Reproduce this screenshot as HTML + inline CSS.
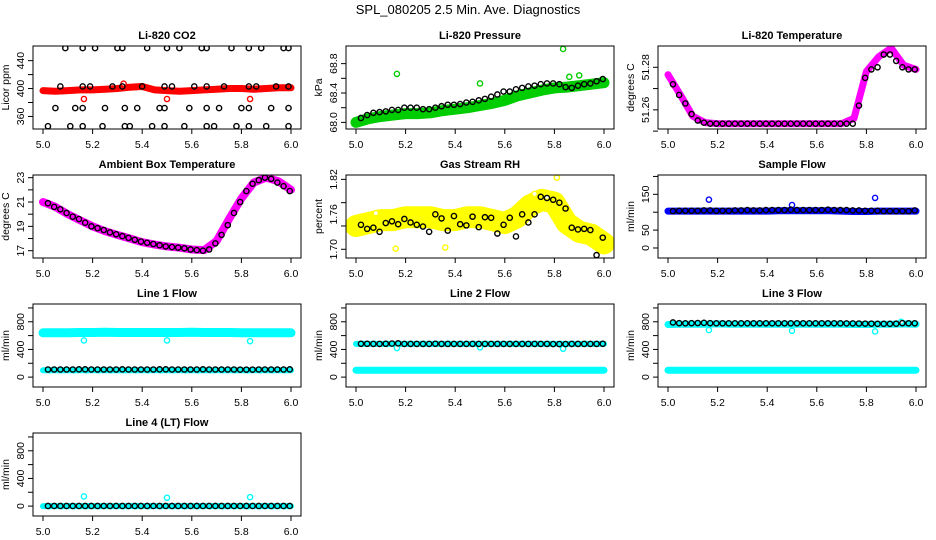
<!DOCTYPE html>
<html><head><meta charset="utf-8">
<style>
html,body{margin:0;padding:0;background:#fff;}
svg{display:block;font-family:"Liberation Sans",Arial,sans-serif;}
</style></head>
<body>
<svg id="chart" width="936" height="540" viewBox="0 0 936 540" xmlns="http://www.w3.org/2000/svg">
<rect x="0" y="0" width="936" height="540" fill="#fff"/>
<text x="468" y="14" text-anchor="middle" font-size="13">SPL_080205  2.5 Min. Ave. Diagnostics</text>
</svg>
<script>
// shared x positions
const blackX = [5.02,5.045,5.07,5.095,5.12,5.145,5.17,5.195,5.22,5.245,5.27,5.295,5.32,5.345,5.37,5.395,5.42,5.445,5.47,5.495,5.52,5.545,5.57,5.595,5.62,5.645,5.67,5.695,5.72,5.745,5.77,5.795,5.82,5.845,5.87,5.895,5.92,5.945,5.97,5.995];
const bandX = [5.0,5.05,5.1,5.15,5.2,5.25,5.3,5.35,5.4,5.45,5.5,5.55,5.6,5.65,5.7,5.75,5.8,5.85,5.9,5.95,6.0];
const xTicks = [5.0,5.2,5.4,5.6,5.8,6.0];
const xTickLabels = ["5.0","5.2","5.4","5.6","5.8","6.0"];

// CO2
const co2Band = [397,396,397,398,398,399,400,402,403,398,397,396,397,398,399,400,400,399,400,401,401];
const co2BlackX = [5.09,5.16,5.21,5.30,5.32,5.42,5.50,5.55,5.64,5.66,5.76,5.83,5.88,5.97,5.99,
 5.07,5.16,5.19,5.28,5.32,5.40,5.49,5.52,5.61,5.66,5.73,5.83,5.86,5.94,5.99,
 5.05,5.13,5.16,5.25,5.33,5.38,5.47,5.49,5.59,5.66,5.71,5.80,5.83,5.92,5.99,
 5.02,5.11,5.16,5.24,5.33,5.35,5.44,5.49,5.57,5.66,5.69,5.78,5.83,5.90,5.99];
const co2BlackY = [458,458,458,458,458,458,458,458,458,458,458,458,458,458,458,
 403,403,403,403,403,403,403,403,403,403,403,403,403,403,403,
 372,372,372,372,372,372,372,372,372,372,372,372,372,372,372,
 346,346,346,346,346,346,346,346,346,346,346,346,346,346,346];
const co2OutX = [5.165,5.5,5.835,5.325];
const co2OutY = [385,385,385,407];

// Pressure
const presBand = [68.0,68.05,68.08,68.1,68.12,68.12,68.13,68.16,68.18,68.2,68.23,68.26,68.3,68.36,68.4,68.44,68.47,68.48,68.5,68.52,68.54];
const presBlack = [68.06,68.1,68.13,68.14,68.15,68.17,68.17,68.2,68.2,68.2,68.18,68.18,68.2,68.22,68.24,68.24,68.25,68.27,68.28,68.3,68.32,68.35,68.38,68.42,68.42,68.45,68.47,68.49,68.5,68.52,68.53,68.53,68.52,68.48,68.47,68.5,68.52,68.53,68.56,68.59];
const presOutX = [5.165,5.5,5.835,5.86,5.9];
const presOutY = [68.66,68.53,69.0,68.62,68.64];

// Li-820 temperature
const ltBand = [51.2765,51.267,51.257,51.254,51.2535,51.2535,51.2535,51.2535,51.2535,51.2535,51.2535,51.2535,51.2535,51.2535,51.2535,51.256,51.278,51.285,51.289,51.281,51.279];
const ltBlack = [51.272,51.267,51.263,51.258,51.255,51.254,51.2535,51.2535,51.2535,51.2535,51.2535,51.2535,51.2535,51.2535,51.2535,51.2535,51.2535,51.2535,51.2535,51.2535,51.2535,51.2535,51.2535,51.2535,51.2535,51.2535,51.2535,51.2535,51.2535,51.2535,51.262,51.275,51.279,51.28,51.286,51.286,51.283,51.28,51.279,51.279];

// Ambient box temperature
const abBand = [21.0,20.6,20.0,19.5,19.0,18.6,18.3,18.0,17.7,17.5,17.35,17.25,17.1,17.05,17.8,19.6,21.3,22.6,23.0,22.7,22.0];
const abBlack = [20.9,20.6,20.4,20.1,19.8,19.6,19.3,19.0,18.85,18.7,18.5,18.35,18.2,18.05,17.9,17.75,17.65,17.55,17.45,17.35,17.3,17.25,17.2,17.1,17.05,17.0,17.1,17.6,18.3,19.1,20.1,21.0,21.9,22.5,22.8,23.0,22.9,22.6,22.3,21.9];

// Gas stream RH
const rhBand = [1.74,1.745,1.75,1.75,1.755,1.755,1.755,1.75,1.75,1.755,1.755,1.75,1.745,1.755,1.775,1.785,1.78,1.745,1.73,1.725,1.71];
const rhBlack = [1.742,1.735,1.737,1.73,1.745,1.748,1.743,1.752,1.746,1.742,
 1.739,1.73,1.76,1.753,1.732,1.757,1.743,1.741,1.756,1.738,
 1.755,1.754,1.727,1.742,1.754,1.722,1.76,1.746,1.76,1.79,
 1.788,1.785,1.78,1.77,1.737,1.734,1.735,1.733,1.69,1.72];
const rhOutX = [5.36,5.81,5.16,5.08,5.72,5.77];
const rhOutY = [1.703,1.823,1.701,1.762,1.795,1.79];

// Sample flow
const sfBand = [103,103,103,103,103,103,103,103,103,104,104,104,104,104,103,102,102,103,103,103,103];
const sfBlack = [103,104,104,104,104,105,105,104,104,104,105,105,106,105,105,106,106,106,106,107,106,106,106,106,106,107,106,106,106,105,105,104,104,104,103,103,103,103,103,105];
const sfOutX = [5.165,5.5,5.835];
const sfOutY = [135,120,140];

// Line flows
const l1Upper = [640,640,642,645,645,648,645,645,645,645,645,645,648,645,645,645,640,640,640,640,640];
const l1Lower = [100,100,100,100,100,100,100,100,100,100,100,100,100,100,100,100,100,100,100,100,100];
const l1Black = [110,110,110,110,110,112,112,110,110,110,110,110,112,110,110,110,110,110,112,112,110,110,110,110,110,112,110,110,110,110,110,108,108,108,110,110,110,110,110,112];
const l1OutX = [5.165,5.5,5.835];
const l1OutY = [530,530,520];

const l2Upper = [480,480,480,480,480,480,480,480,480,480,480,480,480,480,480,480,480,480,480,480,480];
const l2Lower = [100,100,100,100,100,100,100,100,100,100,100,100,100,100,100,100,100,100,100,100,100];
const l2Black = [482,482,480,480,482,485,488,480,480,480,480,480,482,480,480,480,480,480,480,480,480,480,480,480,480,480,480,480,480,480,480,478,478,478,480,480,480,480,480,482];
const l2OutX = [5.165,5.5,5.835];
const l2OutY = [420,430,410];

const l3Upper = [760,765,765,765,770,765,765,765,765,765,765,765,765,765,765,760,760,765,765,770,765];
const l3Lower = [100,100,100,100,100,100,100,100,100,100,100,100,100,100,100,100,100,100,100,100,100];
const l3Black = [790,780,778,780,782,785,780,778,778,778,778,778,778,778,778,778,778,778,778,778,778,778,778,778,778,778,778,778,776,776,775,773,773,770,770,770,772,780,778,778];
const l3OutX = [5.165,5.5,5.835,5.94];
const l3OutY = [680,670,660,800];

const l4Band = [0,0,0,0,0,0,0,0,0,0,0,0,0,0,0,0,0,0,0,0,0];
const l4Black = [2,2,2,2,2,2,2,2,2,2,2,2,2,2,2,2,2,2,2,2,2,2,2,2,2,2,2,2,2,2,2,2,2,2,2,2,2,2,2,2];
const l4OutX = [5.165,5.5,5.835];
const l4OutY = [140,120,130];

const NS = "http://www.w3.org/2000/svg";
const svg = document.getElementById('chart');
function mk(tag, attrs, parent){
  const e = document.createElementNS(NS, tag);
  for (const k in attrs) e.setAttribute(k, attrs[k]);
  (parent||svg).appendChild(e);
  return e;
}
const colLeft = [33,346,658];
const rowTop = [46,175,304,433];
const BW = 268, BH = 83;

function panel(cfg){
  const L = colLeft[cfg.col], T = rowTop[cfg.row];
  const g = mk('g', {});
  
  
  const sx = v => L + 10 + (v - 5.0) * (BW - 20);
  const sy = v => T + BH - (v - cfg.ylim[0]) / (cfg.ylim[1] - cfg.ylim[0]) * BH;
  const t = mk('text', {x: L + BW/2, y: T - 7, 'text-anchor':'middle', 'font-size':'11', 'font-weight':'bold'}, g);
  t.textContent = cfg.title;
  
  
  const cid = 'c' + cfg.row + cfg.col;
  const cp = mk('clipPath', {id: cid}, g);
  mk('rect', {x: L, y: T, width: BW, height: BH}, cp);
  const pg = mk('g', {'clip-path': 'url(#' + cid + ')'}, g);
  (cfg.bands||[]).forEach(b => {
    const pts = bandX.map((x,i) => sx(x).toFixed(1) + ',' + sy(b.v[i]).toFixed(1)).join(' ');
    const pl = mk('polyline', {points: pts, fill:'none', stroke: b.c, 'stroke-width': b.w, 'stroke-linejoin':'round', 'stroke-linecap':'round'}, pg);
    
    
    bandX.forEach((x,i) => {
      if (i < bandX.length - 1) {
        const xm = (x + bandX[i+1]) / 2, vm = (b.v[i] + b.v[i+1]) / 2;
        const c = mk('circle', {cx: sx(xm), cy: sy(vm), r: 2.6, fill:'none', stroke: b.c, 'stroke-width': 1.3}, pg);
        
        
      }
    });
  });
  (cfg.outs||[]).forEach(o => {
    o.x.forEach((x,i) => {
      const c = mk('circle', {cx: sx(x), cy: sy(o.y[i]), r: 2.6, fill:'#fff', stroke: o.c, 'stroke-width': 1.4}, pg);
      
      
    });
  });
  if (cfg.black) {
    cfg.black.x.forEach((x,i) => {
      const c = mk('circle', {cx: sx(x), cy: sy(cfg.black.y[i]), r: 2.6, fill:'none', stroke:'#000', 'stroke-width': 1.4}, pg);
      
      
    });
  }
  mk('rect', {x: L, y: T, width: BW, height: BH, fill:'none', stroke:'#000', 'stroke-width': 1}, g);
  xTicks.forEach((v,i) => {
    mk('line', {x1: sx(v), x2: sx(v), y1: T+BH, y2: T+BH+5, stroke:'#000'}, g);
    const tl = mk('text', {x: sx(v), y: T+BH+19, 'text-anchor':'middle', 'font-size':'10.5'}, g);
    tl.textContent = xTickLabels[i];
    
    
  });
  cfg.yticks.forEach(v => mk('line', {x1: L-5, x2: L, y1: sy(v), y2: sy(v), stroke:'#000'}, g));
  cfg.ylabels.forEach((v,i) => {
    const yy = sy(v);
    const tl = mk('text', {x: L-9, y: yy, transform: 'rotate(-90 ' + (L-9) + ' ' + yy + ')', 'text-anchor':'middle', 'font-size':'10.5'}, g);
    tl.textContent = cfg.ylabelText[i];
    
    
  });
  const ya = mk('text', {x: L-24, y: T+BH/2, transform:'rotate(-90 ' + (L-24) + ' ' + (T+BH/2) + ')', 'text-anchor':'middle', 'font-size':'10.5'}, g);
  ya.textContent = cfg.ytitle;
  
  
}

const flowTicks = [0,200,400,600,800,1000];
panel({name:'co2-panel', title:'Li-820 CO2', row:0, col:0, ylim:[342,461], yticks:[360,380,400,420,440], ylabels:[360,400,440], ylabelText:['360','400','440'], ytitle:'Licor ppm',
  bands:[{v:co2Band, c:'#ff0000', w:7}], outs:[{x:co2OutX, y:co2OutY, c:'#ff0000'}], black:{x:co2BlackX, y:co2BlackY}});
panel({name:'pressure-panel', title:'Li-820 Pressure', row:0, col:1, ylim:[67.91,69.04], yticks:[68.0,68.2,68.4,68.6,68.8], ylabels:[68.0,68.4,68.8], ylabelText:['68.0','68.4','68.8'], ytitle:'kPa',
  bands:[{v:presBand, c:'#00cd00', w:11}], outs:[{x:presOutX, y:presOutY, c:'#00cd00'}], black:{x:blackX, y:presBlack}});
panel({name:'li820-temp-panel', title:'Li-820 Temperature', row:0, col:2, ylim:[51.251,51.290], yticks:[51.25,51.26,51.27,51.28], ylabels:[51.26,51.28], ylabelText:['51.26','51.28'], ytitle:'degrees C',
  bands:[{v:ltBand, c:'#ff00ff', w:7}], black:{x:blackX, y:ltBlack}});
panel({name:'ambient-temp-panel', title:'Ambient Box Temperature', row:1, col:0, ylim:[16.4,23.22], yticks:[17,18,19,20,21,22,23], ylabels:[17,19,21,23], ylabelText:['17','19','21','23'], ytitle:'degrees C',
  bands:[{v:abBand, c:'#ff00ff', w:8}], black:{x:blackX, y:abBlack}});
panel({name:'rh-panel', title:'Gas Stream RH', row:1, col:1, ylim:[1.685,1.8275], yticks:[1.70,1.74,1.78,1.82], ylabels:[1.70,1.76,1.82], ylabelText:['1.70','1.76','1.82'], ytitle:'percent',
  bands:[{v:rhBand, c:'#ffff00', w:22}], outs:[{x:rhOutX, y:rhOutY, c:'#ffff00'}], black:{x:blackX, y:rhBlack}});
panel({name:'sample-flow-panel', title:'Sample Flow', row:1, col:2, ylim:[-28,204], yticks:[0,50,100,150,200], ylabels:[0,50,150], ylabelText:['0','50','150'], ytitle:'ml/min',
  bands:[{v:sfBand, c:'#0000ff', w:7}], outs:[{x:sfOutX, y:sfOutY, c:'#0000ff'}], black:{x:blackX, y:sfBlack}});
panel({name:'line1-flow-panel', title:'Line 1 Flow', row:2, col:0, ylim:[-143,1057], yticks:flowTicks, ylabels:[0,400,800], ylabelText:['0','400','800'], ytitle:'ml/min',
  bands:[{v:l1Upper, c:'#00ffff', w:9},{v:l1Lower, c:'#00ffff', w:6}], outs:[{x:l1OutX, y:l1OutY, c:'#00ffff'}], black:{x:blackX, y:l1Black}});
panel({name:'line2-flow-panel', title:'Line 2 Flow', row:2, col:1, ylim:[-143,1057], yticks:flowTicks, ylabels:[0,400,800], ylabelText:['0','400','800'], ytitle:'ml/min',
  bands:[{v:l2Upper, c:'#00ffff', w:6},{v:l2Lower, c:'#00ffff', w:7}], outs:[{x:l2OutX, y:l2OutY, c:'#00ffff'}], black:{x:blackX, y:l2Black}});
panel({name:'line3-flow-panel', title:'Line 3 Flow', row:2, col:2, ylim:[-143,1057], yticks:flowTicks, ylabels:[0,400,800], ylabelText:['0','400','800'], ytitle:'ml/min',
  bands:[{v:l3Upper, c:'#00ffff', w:7},{v:l3Lower, c:'#00ffff', w:7}], outs:[{x:l3OutX, y:l3OutY, c:'#00ffff'}], black:{x:blackX, y:l3Black}});
panel({name:'line4-flow-panel', title:'Line 4 (LT) Flow', row:3, col:0, ylim:[-143,1057], yticks:flowTicks, ylabels:[0,400,800], ylabelText:['0','400','800'], ytitle:'ml/min',
  bands:[{v:l4Band, c:'#00ffff', w:6}], outs:[{x:l4OutX, y:l4OutY, c:'#00ffff'}], black:{x:blackX, y:l4Black}});
</script>
</body></html>
